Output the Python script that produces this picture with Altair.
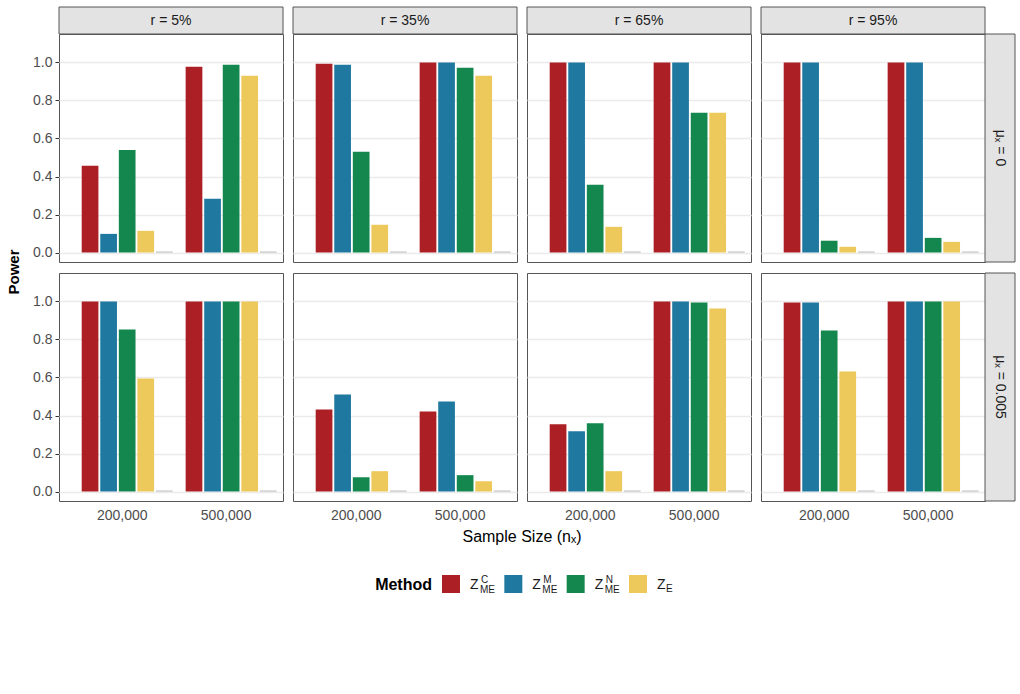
import altair as alt
import pandas as pd

FONT = "Liberation Sans"

r_levels = ["5%", "35%", "65%", "95%"]
r_labels = ["r = 5%", "r = 35%", "r = 65%", "r = 95%"]
mu_levels = ["0", "0.005"]
mu_labels = ["μₓ = 0", "μₓ = 0.005"]
sizes = ["200,000", "500,000"]
methods = ["Z_ME^C", "Z_ME^M", "Z_ME^N", "Z_E", "other"]
colors = ["#AB1F25", "#1F78A0", "#13874E", "#EDC85A", "#B5B5B5"]
y_title = "Power"
x_title = "Sample Size (nₓ)"

# values ordered: mu (0, 0.005) -> r (5,35,65,95) -> sample size (200k, 500k)
power_zc = [0.456, 0.977, 0.993, 1.000, 1.000, 1.000, 1.000, 1.000,
            1.000, 1.000, 0.432, 0.421, 0.354, 1.000, 0.995, 1.000]
power_zm = [0.098, 0.283, 0.988, 1.000, 1.000, 1.000, 1.000, 1.000,
            1.000, 1.000, 0.511, 0.474, 0.317, 1.000, 0.995, 1.000]
power_zn = [0.540, 0.988, 0.530, 0.972, 0.356, 0.735, 0.062, 0.077,
            0.852, 1.000, 0.075, 0.086, 0.359, 0.995, 0.848, 1.000]
power_ze = [0.114, 0.930, 0.146, 0.930, 0.135, 0.735, 0.030, 0.056,
            0.595, 1.000, 0.107, 0.054, 0.107, 0.963, 0.632, 1.000]
power_other = [0.005] * 16

series = [power_zc, power_zm, power_zn, power_ze, power_other]

rows = []
i = 0
for mu in mu_levels:
    for r in r_levels:
        for s in sizes:
            for m, vals in zip(methods, series):
                rows.append({"kind": "bar", "mu": mu, "r": r, "size": s,
                             "method": m, "power": vals[i], "label": ""})
            i += 1
for r, lab in zip(r_levels, r_labels):
    rows.append({"kind": "top", "mu": mu_levels[0], "r": r, "size": None,
                 "method": None, "power": None, "label": lab})
for mu, lab in zip(mu_levels, mu_labels):
    rows.append({"kind": "right", "mu": mu, "r": r_levels[-1], "size": None,
                 "method": None, "power": None, "label": lab})
rows.append({"kind": "ylab", "mu": mu_levels[0], "r": r_levels[0], "size": None,
             "method": None, "power": None, "label": y_title})
rows.append({"kind": "xlab", "mu": mu_levels[1], "r": r_levels[1], "size": None,
             "method": None, "power": None, "label": x_title})
df = pd.DataFrame(rows)

PW, PH = 224, 228
STRIP_H, STRIP_W = 27, 30
STRIP_FILL = "#e3e3e3"
BORDER = "#555555"

bars = alt.Chart().transform_filter(alt.datum.kind == "bar").mark_bar().encode(
    x=alt.X("size:N", sort=sizes,
            scale=alt.Scale(domain=sizes, paddingInner=0.125, paddingOuter=0.14, align=0.78),
            axis=alt.Axis(title=None, labelAngle=0, ticks=False, domain=False,
                          labelOffset=-5, labelPadding=7, labelFontSize=14,
                          labelColor="#4d4d4d", grid=False, labelFont=FONT)),
    xOffset=alt.XOffset("method:N", scale=alt.Scale(domain=methods, paddingInner=0.1)),
    y=alt.Y("power:Q", scale=alt.Scale(domain=[-0.05, 1.15], nice=False, zero=False),
            axis=alt.Axis(title=None, values=[0, 0.2, 0.4, 0.6, 0.8, 1.0], format=".1f",
                          labelFontSize=14, labelColor="#4d4d4d", labelFont=FONT,
                          tickColor="#333333", tickSize=4, labelPadding=3,
                          domain=False, grid=True, gridColor="#ebebeb", gridWidth=1.3)),
    y2=alt.datum(0),
    color=alt.Color("method:N", scale=alt.Scale(domain=methods, range=colors), legend=None),
)

top_rect = alt.Chart().transform_filter(alt.datum.kind == "top").mark_rect(
    fill=STRIP_FILL, stroke=BORDER, strokeWidth=1).encode(
    x=alt.value(0), x2=alt.value(PW), y=alt.value(-STRIP_H), y2=alt.value(0))
top_text = alt.Chart().transform_filter(alt.datum.kind == "top").mark_text(
    fontSize=14, color="#1a1a1a", font=FONT, baseline="middle").encode(
    text="label:N", x=alt.value(PW / 2), y=alt.value(-STRIP_H / 2))
right_rect = alt.Chart().transform_filter(alt.datum.kind == "right").mark_rect(
    fill=STRIP_FILL, stroke=BORDER, strokeWidth=1).encode(
    x=alt.value(PW), x2=alt.value(PW + STRIP_W), y=alt.value(0), y2=alt.value(PH))
right_text = alt.Chart().transform_filter(alt.datum.kind == "right").mark_text(
    fontSize=14, color="#1a1a1a", font=FONT, baseline="middle", angle=90).encode(
    text="label:N", x=alt.value(PW + STRIP_W / 2), y=alt.value(PH / 2))
ylab = alt.Chart().transform_filter(alt.datum.kind == "ylab").mark_text(
    fontSize=15, fontWeight="bold", color="black", font=FONT, baseline="middle",
    angle=270).encode(text="label:N", x=alt.value(-45), y=alt.value(PH + 10))
xlab = alt.Chart().transform_filter(alt.datum.kind == "xlab").mark_text(
    fontSize=16, color="black", font=FONT, baseline="middle").encode(
    text="label:N", x=alt.value(PW + 5), y=alt.value(PH + 36))

grid = alt.layer(bars, top_rect, top_text, right_rect, right_text, ylab, xlab,
                 data=df).properties(width=PW, height=PH).facet(
    row=alt.Row("mu:N", sort=mu_levels, header=alt.Header(labels=False), title=None),
    column=alt.Column("r:N", sort=r_levels, header=alt.Header(labels=False), title=None),
    spacing={"row": 11, "column": 10},
    bounds="flush",
)

# custom legend
leg_methods = methods[:4]
leg_df = pd.DataFrame({"method": leg_methods,
                       "z": ["Z", "Z", "Z", "Z"],
                       "sup": ["C", "M", "N", ""],
                       "sub": ["ME", "ME", "ME", "E"]})
lx = alt.X("method:N", scale=alt.Scale(type="point", domain=leg_methods,
                                       range=[392, 579], padding=0), axis=None)
lcolor = alt.Color("method:N", scale=alt.Scale(domain=methods, range=colors), legend=None)

sw = alt.Chart(leg_df).mark_square(size=324, opacity=1, filled=True).encode(
    x=lx, y=alt.value(13), color=lcolor)
zt = alt.Chart(leg_df).mark_text(align="left", baseline="alphabetic", fontSize=14,
                                 dx=19, font=FONT, color="#1a1a1a").encode(
    x=lx, y=alt.value(18), text="z:N")
supt = alt.Chart(leg_df).transform_filter(alt.datum.sup != "").mark_text(
    align="left", baseline="alphabetic", fontSize=10, dx=30, font=FONT, color="#1a1a1a").encode(
    x=lx, y=alt.value(12), text="sup:N")
subt = alt.Chart(leg_df).transform_filter(alt.datum.method != "Z_E").mark_text(
    align="left", baseline="alphabetic", fontSize=10, dx=29, font=FONT, color="#1a1a1a").encode(
    x=lx, y=alt.value(22), text="sub:N")
sube = alt.Chart(leg_df).transform_filter(alt.datum.method == "Z_E").mark_text(
    align="left", baseline="alphabetic", fontSize=10, dx=28, font=FONT, color="#1a1a1a").encode(
    x=lx, y=alt.value(20.5), text="sub:N")
mtitle = alt.Chart(pd.DataFrame({"t": ["Method"]})).mark_text(
    align="right", baseline="alphabetic", fontSize=16, fontWeight="bold",
    font=FONT, color="black").encode(x=alt.value(373), y=alt.value(19), text="t:N")

legend = alt.layer(sw, zt, supt, subt, sube, mtitle).properties(
    width=900, height=26, view=alt.ViewBackground(stroke="transparent"))

chart = alt.vconcat(grid, legend, spacing=24).properties(
    padding={"left": 6, "top": 6, "right": 3, "bottom": 5},
    background="white",
).resolve_scale(color="independent").configure(font=FONT).configure_view(
    stroke=BORDER, strokeWidth=1)

chart.save("out.html", embed_options={"renderer": "svg", "actions": False})
